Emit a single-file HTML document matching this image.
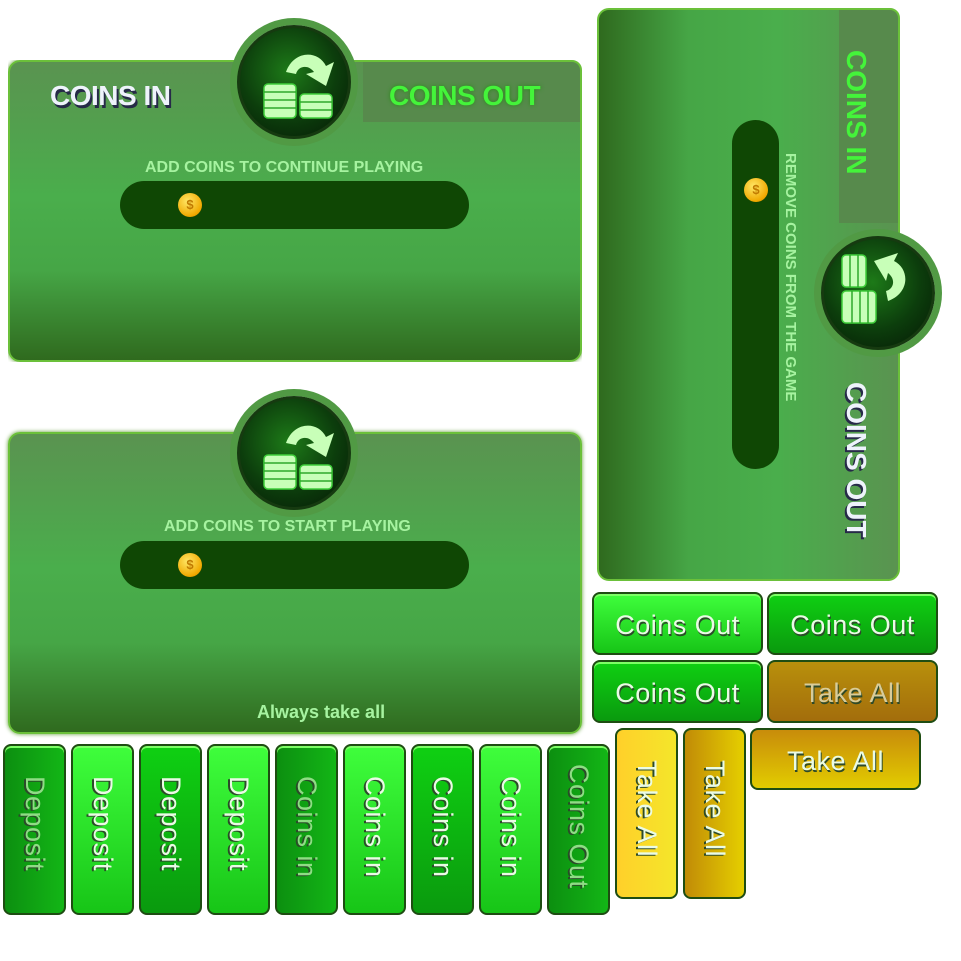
<!DOCTYPE html>
<html><head><meta charset="utf-8"><style>
body{margin:0;width:961px;height:961px;background:#fff;position:relative;overflow:hidden;font-family:"Liberation Sans",sans-serif}
.a{position:absolute;box-sizing:border-box}
.panel{background:linear-gradient(180deg,#5a9350 0%,#4aae4c 45%,#46a646 70%,#2f6a1e 100%);border:2px solid #6bc03a;border-radius:12px;box-shadow:0 0 4px #5b9a30}
.tabd{background:#578a4c;border:2px solid #6bc03a;border-radius:10px}
.circ{border-radius:50%;background:radial-gradient(circle at 45% 40%,#1d7a18 0%,#0c3d0c 55%,#051805 100%);border:3px solid #163a10;box-shadow:0 0 0 7px #519a44}
.slot{background:#0f4704;border-radius:25px}
.coin{width:24px;height:24px;border-radius:50%;background:radial-gradient(circle at 40% 35%,#ffe766,#f0a800 70%,#b56d00);font-size:13px;color:#c07a00;text-align:center;line-height:24px;font-weight:bold}
.t{font-weight:bold;color:#a6f3a0;white-space:nowrap}
.big{font-weight:900;font-size:28px;letter-spacing:-0.5px;white-space:nowrap}
.btn{border:2px solid #1e4d12;border-radius:8px;color:#eafbe5;font-size:27px;text-align:center;text-shadow:1px 2px 0 #2c4a2a;box-shadow:inset 0 2px 0 #7dff66;letter-spacing:0.5px}
.g1{background:linear-gradient(180deg,#3ffe3c,#17c517)}
.g2{background:linear-gradient(180deg,#0fd012,#0a9a0e)}
.g3{background:linear-gradient(90deg,#0c8f10,#13b616)}
.gold1{background:linear-gradient(180deg,#b8900c,#a36d0c);color:#d8cc9a}
.gold2{background:linear-gradient(180deg,#c88c0b,#e2cc00)}
.gold3{background:linear-gradient(90deg,#ffd02a,#f4e62a)}
.gold4{background:linear-gradient(90deg,#c18b07,#e5cf00)}
.v{writing-mode:vertical-rl;display:flex;align-items:center;justify-content:flex-start;padding-top:30px}
.circ svg{position:absolute;left:0;top:0}
</style></head><body>

<svg width="0" height="0" style="position:absolute"><defs>
<g id="ico">
 <g fill="#c8ffb8" stroke="#3fcf3a" stroke-width="1.5">
  <rect x="24" y="56" width="32" height="34" rx="4"/>
  <path d="M24 64h32M24 72h32M24 80h32" stroke="#2fa82a"/>
  <rect x="60" y="66" width="32" height="24" rx="4"/>
  <path d="M60 74h32M60 82h32" stroke="#2fa82a"/>
 </g>
 <path d="M46 44 C54 22 78 22 86 38 L94 34 L86 58 L66 46 L74 44 C68 36 58 38 56 46 Z" fill="#c8ffb8"/>
</g></defs></svg>

<!-- panel 1 -->
<div class="a tabd" style="left:350px;top:60px;width:232px;height:80px"></div>
<div class="a panel" style="left:8px;top:60px;width:574px;height:302px;clip-path:polygon(0 0,355px 0,355px 62px,100% 62px,100% 100%,0 100%)"></div>
<div class="a circ" style="left:237px;top:25px;width:114px;height:114px"><svg width="108" height="108" viewBox="0 0 108 108"><use href="#ico"/></svg></div>
<div class="a big" style="left:50px;top:80px;color:#eef3fb;text-shadow:2px 3px 0 #262a48">COINS IN</div>
<div class="a big" style="left:389px;top:80px;color:#44f43a;text-shadow:0 0 4px #2a8a1a">COINS OUT</div>
<div class="a t" style="left:145px;top:159px;font-size:16px">ADD COINS TO CONTINUE PLAYING</div>
<div class="a slot" style="left:120px;top:181px;width:349px;height:48px"></div>
<div class="a coin" style="left:178px;top:193px">$</div>

<!-- panel 2 -->
<div class="a panel" style="left:8px;top:432px;width:574px;height:302px"></div>
<div class="a circ" style="left:237px;top:396px;width:114px;height:114px"><svg width="108" height="108" viewBox="0 0 108 108"><use href="#ico"/></svg></div>
<div class="a t" style="left:164px;top:518px;font-size:16px">ADD COINS TO START PLAYING</div>
<div class="a slot" style="left:120px;top:541px;width:349px;height:48px"></div>
<div class="a coin" style="left:178px;top:553px">$</div>
<div class="a t" style="left:257px;top:702px;font-size:18px">Always take all</div>

<!-- vertical panel -->
<div class="a tabd" style="left:820px;top:8px;width:80px;height:230px"></div>
<div class="a" style="left:597px;top:8px;width:303px;height:573px;background:linear-gradient(90deg,#2f6a1e 0%,#46a646 30%,#4aae4c 60%,#5a9350 100%);border:2px solid #6bc03a;border-radius:12px;clip-path:polygon(0 0,242px 0,242px 215px,100% 215px,100% 100%,0 100%)"></div>
<div class="a circ" style="left:821px;top:236px;width:114px;height:114px"><svg width="108" height="108" viewBox="0 0 108 108" style="transform:rotate(-90deg) scaleY(-1)"><use href="#ico"/></svg></div>
<div class="a" style="left:840px;top:50px;writing-mode:vertical-rl;font-weight:900;font-size:28px;color:#44f43a">COINS IN</div>
<div class="a" style="left:840px;top:382px;writing-mode:vertical-rl;font-weight:900;font-size:28px;color:#eef3fb;text-shadow:2px 2px 0 #262a48">COINS OUT</div>
<div class="a slot" style="left:732px;top:120px;width:47px;height:349px"></div>
<div class="a coin" style="left:744px;top:178px">$</div>
<div class="a t" style="left:782px;top:153px;writing-mode:vertical-rl;font-size:15px">REMOVE COINS FROM THE GAME</div>

<!-- horizontal buttons -->
<div class="a btn g1" style="left:592px;top:592px;width:171px;height:63px;line-height:62px">Coins Out</div>
<div class="a btn g2" style="left:767px;top:592px;width:171px;height:63px;line-height:62px">Coins Out</div>
<div class="a btn g2" style="left:592px;top:660px;width:171px;height:63px;line-height:62px">Coins Out</div>
<div class="a btn gold1" style="left:767px;top:660px;width:171px;height:63px;line-height:62px;box-shadow:none">Take All</div>
<div class="a btn gold2" style="left:750px;top:728px;width:171px;height:62px;line-height:62px;box-shadow:none">Take All</div>

<!-- vertical buttons -->
<div class="a btn g3 v" style="left:3px;top:744px;width:63px;height:171px;color:#8fdc85">Deposit</div>
<div class="a btn g1 v" style="left:71px;top:744px;width:63px;height:171px">Deposit</div>
<div class="a btn g2 v" style="left:139px;top:744px;width:63px;height:171px">Deposit</div>
<div class="a btn g1 v" style="left:207px;top:744px;width:63px;height:171px">Deposit</div>
<div class="a btn g3 v" style="left:275px;top:744px;width:63px;height:171px;color:#8fdc85">Coins in</div>
<div class="a btn g1 v" style="left:343px;top:744px;width:63px;height:171px">Coins in</div>
<div class="a btn g2 v" style="left:411px;top:744px;width:63px;height:171px">Coins in</div>
<div class="a btn g1 v" style="left:479px;top:744px;width:63px;height:171px">Coins in</div>
<div class="a btn g3 v" style="left:547px;top:744px;width:63px;height:171px;color:#8fdc85;padding-top:18px">Coins Out</div>
<div class="a btn gold3 v" style="left:615px;top:728px;width:63px;height:171px;box-shadow:none">Take All</div>
<div class="a btn gold4 v" style="left:683px;top:728px;width:63px;height:171px;box-shadow:none">Take All</div>
</body></html>
